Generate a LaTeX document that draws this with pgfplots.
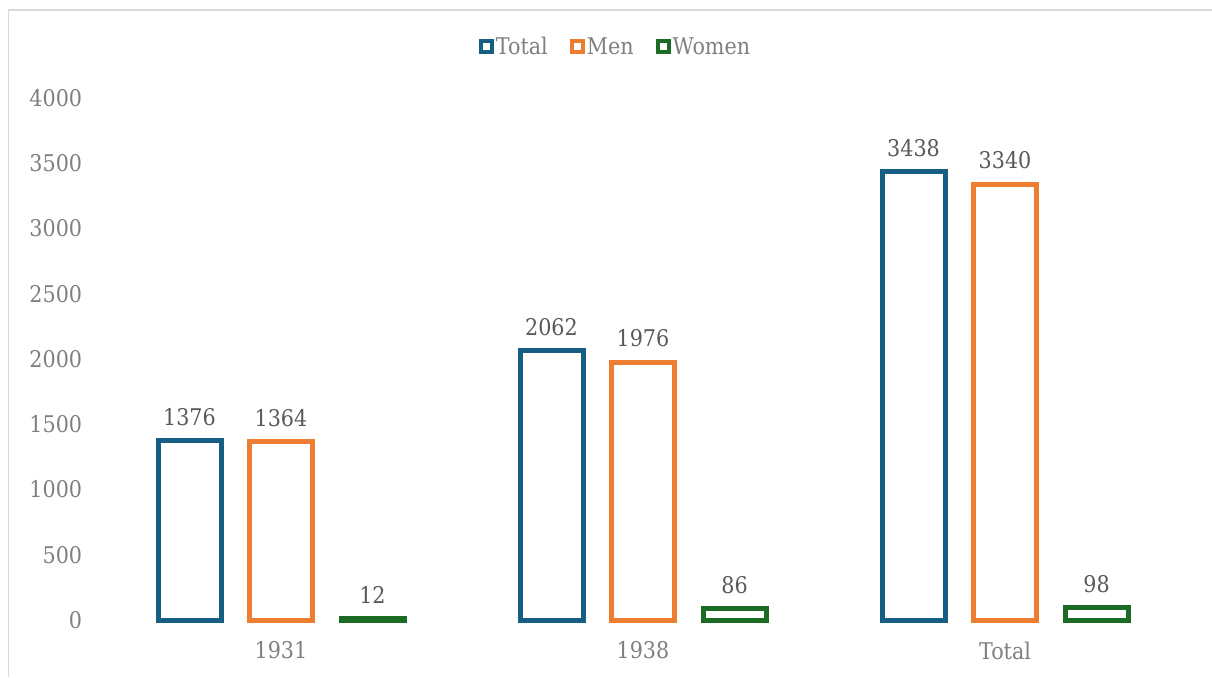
\documentclass[border=0pt]{standalone}
\usepackage{pgfplots}
\pgfplotsset{compat=1.18}
\usepackage{fontspec}
\setmainfont{DejaVu Serif}[FakeStretch=0.9]
\definecolor{cblue}{HTML}{165E83}
\definecolor{corange}{HTML}{ED7D31}
\definecolor{cgreen}{HTML}{1B6B24}
\definecolor{tickgrey}{HTML}{7F7F7F}
\definecolor{labelgrey}{HTML}{595959}
\definecolor{framegrey}{HTML}{D9D9D9}
\begin{document}
\begin{tikzpicture}
\useasboundingbox (0pt,0pt) rectangle (1212pt,677pt);
\draw[color=framegrey, line width=1.5pt] (8.5pt,0pt) -- (8.5pt,667pt) -- (1212pt,667pt);
\begin{axis}[
  at={(100pt,57pt)}, anchor=south west, scale only axis,
  width=1086pt, height=522pt,
  xmin=-0.5, xmax=2.5, ymin=0, ymax=4000,
  clip=false,
  ybar=28.5pt, bar width=63pt,
  xtick={0,1,2}, xticklabels={1931,1938,Total},
  ytick={0,500,1000,1500,2000,2500,3000,3500,4000},
  axis line style={draw=none}, major tick length=0pt,
  tick label style={font=\fontsize{23}{27}\selectfont, text=tickgrey},
  /pgf/number format/assume math mode=true,
  /pgf/number format/1000 sep={},
  yticklabel style={xshift=-14.3pt},
  xticklabel style={yshift=-18pt},
  nodes near coords,
  nodes near coords style={font=\fontsize{23}{27}\selectfont, text=labelgrey, yshift=9pt},
  legend columns=3,
  legend style={draw=none, fill=none, at={(0.4747,1.0977)}, anchor=center,
    font=\fontsize{23}{27}\selectfont, text=tickgrey,
    nodes={inner sep=2pt},
    /tikz/every even column/.append style={column sep=20pt}},
  legend image code/.code={\draw[line width=4pt, fill=white] (0pt,-5.5pt) rectangle (11pt,5.5pt);},
]
\addplot[draw=cblue, fill=white, line width=5pt] coordinates {(0,1376) (1,2062) (2,3438)};
\addplot[draw=corange, fill=white, line width=5pt] coordinates {(0,1364) (1,1976) (2,3340)};
\addplot[draw=cgreen, fill=white, line width=5pt] coordinates {(0,12) (1,86) (2,98)};
\legend{Total,Men,Women}
\end{axis}
\end{tikzpicture}
\end{document}
